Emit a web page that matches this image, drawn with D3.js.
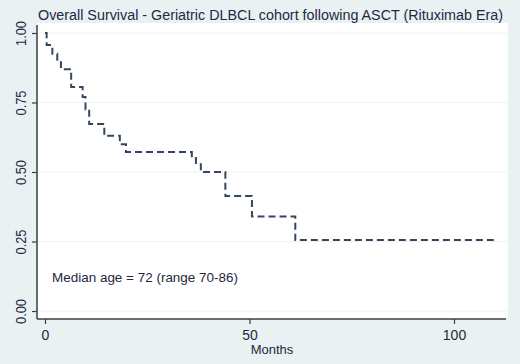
<!DOCTYPE html>
<html>
<head>
    <meta charset="utf-8">
    <title>Overall Survival</title>
    <style>
        body { margin: 0; background: #e9f1f3; }
        text { font-family: "Liberation Sans", Arial, sans-serif; fill: #1e2940; }
    </style>
</head>
<body>
    <script src="https://cdnjs.cloudflare.com/ajax/libs/d3/7.8.5/d3.min.js"></script>
    <script>
        var width = 520, height = 364;

        // Kaplan-Meier steps (months, survival)
        const months = [0, 0.4, 1.8, 3.0, 3.9, 6.4, 9.2, 9.9, 10.8, 14.5, 18.3, 19.8, 35.9, 36.9, 38.1, 44.1, 50.6, 61.2, 110.5];
        const survival = [1.0, 0.957, 0.925, 0.895, 0.87, 0.806, 0.77, 0.725, 0.673, 0.63, 0.6, 0.572, 0.55, 0.528, 0.5, 0.414, 0.34, 0.255, 0.255];

        const yTicks = [0, 0.25, 0.5, 0.75, 1];
        const xTicks = [0, 50, 100];
        const title = "Overall Survival - Geriatric DLBCL cohort following ASCT (Rituximab Era)";
        const note = "Median age = 72 (range 70-86)";

        var svg = d3.select("body").append("svg")
            .attr("width", width)
            .attr("height", height);

        var x = d3.scaleLinear().domain([0, 100]).range([45, 454]);
        var y = d3.scaleLinear().domain([0, 1]).range([311, 33]);

        // plot region
        svg.append("rect")
            .attr("x", 37).attr("y", 23)
            .attr("width", 471).attr("height", 296)
            .attr("fill", "#ffffff");

        // faint grid
        svg.append("g").selectAll("line")
            .data(yTicks)
            .enter().append("line")
            .attr("x1", 38).attr("x2", 507)
            .attr("y1", d => y(d)).attr("y2", d => y(d))
            .attr("stroke", "#eef3f5").attr("stroke-width", 1);

        // title
        svg.append("text")
            .attr("x", 38).attr("y", 20)
            .attr("font-size", 14)
            .attr("textLength", 465)
            .attr("lengthAdjust", "spacingAndGlyphs")
            .text(title);

        // y axis, labels turned on their side
        var yAxis = d3.axisLeft(y).tickValues(yTicks).tickFormat(d3.format(".2f")).tickSize(5);
        var gy = svg.append("g").attr("transform", "translate(37,0)").call(yAxis);
        gy.select(".domain").attr("d", "M0,25V319").attr("stroke", "#3a3d42").attr("stroke-width", 1.5);
        gy.selectAll(".tick line").attr("stroke", "#3a3d42").attr("stroke-width", 1.2);
        gy.selectAll(".tick text")
            .attr("font-size", 14)
            .attr("fill", "#1e2940")
            .attr("transform", "rotate(-90)")
            .attr("x", 0).attr("y", -11)
            .attr("dy", 0)
            .attr("text-anchor", "middle")
            .attr("textLength", 25)
            .attr("lengthAdjust", "spacingAndGlyphs");

        // x axis
        var xAxis = d3.axisBottom(x).tickValues(xTicks).tickSize(5).tickPadding(6);
        var gx = svg.append("g").attr("transform", "translate(0,319)").call(xAxis);
        gx.select(".domain").attr("d", "M37,0H506").attr("stroke", "#3a3d42").attr("stroke-width", 1.5);
        gx.selectAll(".tick line").attr("stroke", "#3a3d42").attr("stroke-width", 1.2);
        gx.selectAll(".tick text").attr("font-size", 14).attr("fill", "#1e2940").attr("font-family", "Liberation Sans");

        svg.append("text")
            .attr("x", 272).attr("y", 354)
            .attr("text-anchor", "middle")
            .attr("font-size", 13)
            .text("Months");

        // survival curve
        var data = months.map((m, i) => [m, survival[i]]);
        var line = d3.line()
            .x(d => x(d[0]))
            .y(d => y(d[1]))
            .curve(d3.curveStepAfter);

        svg.append("path")
            .datum(data)
            .attr("d", line)
            .attr("fill", "none")
            .attr("stroke", "#34475f")
            .attr("stroke-width", 2)
            .attr("stroke-dasharray", "7,4");

        svg.append("text")
            .attr("x", 52).attr("y", 282)
            .attr("font-size", 13)
            .attr("textLength", 186)
            .attr("lengthAdjust", "spacingAndGlyphs")
            .text(note);
    </script>
</body>
</html>
